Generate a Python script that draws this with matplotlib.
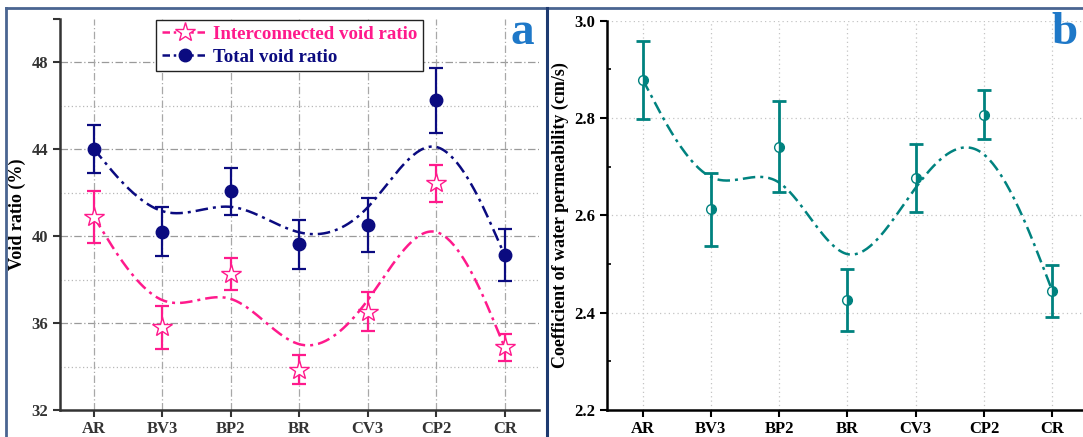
import numpy as np
import matplotlib
matplotlib.use("Agg")
import matplotlib.pyplot as plt
from matplotlib.lines import Line2D

# ---- data ----
categories = ["AR", "BV3", "BP2", "BR", "CV3", "CP2", "CR"]
total_void = [44.02, 40.21, 42.07, 39.62, 40.53, 46.25, 39.12]
total_err = [1.10, 1.13, 1.08, 1.13, 1.25, 1.50, 1.20]
inter_void = [40.90, 35.80, 38.26, 33.85, 36.52, 42.44, 34.88]
inter_err = [1.20, 1.00, 0.74, 0.66, 0.90, 0.85, 0.63]
permeability = [2.879, 2.613, 2.741, 2.426, 2.677, 2.807, 2.445]
perm_err = [0.080, 0.075, 0.094, 0.063, 0.070, 0.050, 0.053]
yticks_a = [32, 36, 40, 44, 48]
yticks_b = [2.2, 2.4, 2.6, 2.8, 3.0]

PINK = "#FF1A8C"
NAVY = "#0B0B80"
TEAL = "#00827F"
BLUE_LBL = "#1E78C8"
FRAME = "#4A6591"

plt.rcParams["font.family"] = ["Liberation Serif", "DejaVu Serif"]
plt.rcParams["font.weight"] = "bold"


def bspline(xc, yc, n=40):
    """Uniform cubic B-spline with data points as control points (ends tripled)."""
    xc = np.asarray(xc, float)
    yc = np.asarray(yc, float)
    px = np.concatenate([[xc[0]] * 2, xc, [xc[-1]] * 2])
    py = np.concatenate([[yc[0]] * 2, yc, [yc[-1]] * 2])
    t = np.linspace(0, 1, n)
    b0 = (1 - t) ** 3 / 6
    b1 = (3 * t ** 3 - 6 * t ** 2 + 4) / 6
    b2 = (-3 * t ** 3 + 3 * t ** 2 + 3 * t + 1) / 6
    b3 = t ** 3 / 6
    ox, oy = [], []
    for i in range(len(px) - 3):
        ox.append(b0 * px[i] + b1 * px[i + 1] + b2 * px[i + 2] + b3 * px[i + 3])
        oy.append(b0 * py[i] + b1 * py[i + 1] + b2 * py[i + 2] + b3 * py[i + 3])
    return np.concatenate(ox), np.concatenate(oy)


fig = plt.figure(figsize=(10.83, 4.37), dpi=100)

x = np.arange(len(categories))
DASH = (5, 2, 1.2, 2)

# ---------------- panel a ----------------
axa = fig.add_axes([59.5 / 1083, 1 - 410 / 437, (539 - 59.5) / 1083, (410 - 19) / 437])
axa.set_xlim(-0.5, 6.5)
axa.set_ylim(32, 50)
for v in [36, 40, 44, 48]:
    axa.axhline(v, color="#9a9a9a", lw=0.9, dashes=(6, 2, 1, 2), zorder=0)
for v in [34, 38, 42, 46]:
    axa.axhline(v, color="#b8b8b8", lw=0.9, dashes=(1, 2), zorder=0)
for xi in x:
    axa.axvline(xi, color="#a8a8a8", lw=0.9, dashes=(6, 2, 1, 2), zorder=0)

cx, cy = bspline(x, inter_void)
axa.plot(cx, cy, color=PINK, lw=1.8, dashes=DASH, zorder=2)
cx, cy = bspline(x, total_void)
axa.plot(cx, cy, color=NAVY, lw=1.8, dashes=DASH, zorder=2)

axa.errorbar(x, inter_void, yerr=inter_err, fmt="none", ecolor=PINK, elinewidth=1.6,
             capsize=5, capthick=1.6, zorder=3)
axa.plot(x, inter_void, ls="none", marker="*", ms=15, mfc="white", mec=PINK, mew=1.0, zorder=4)
axa.errorbar(x, total_void, yerr=total_err, fmt="none", ecolor=NAVY, elinewidth=1.6,
             capsize=5, capthick=1.6, zorder=3)
axa.plot(x, total_void, ls="none", marker="o", ms=9, mfc=NAVY, mec=NAVY, zorder=4)

axa.set_xticks(x)
axa.set_xticklabels(categories)
axa.set_yticks(yticks_a + [50])
axa.set_yticklabels([str(v) for v in yticks_a] + [""])
axa.tick_params(axis="both", direction="out", length=5, width=1.5, labelsize=12,
                colors="#333333", pad=3)
for s in ["top", "right"]:
    axa.spines[s].set_visible(False)
for s in ["left", "bottom"]:
    axa.spines[s].set_linewidth(1.8)
    axa.spines[s].set_color("#333333")
axa.set_ylabel("Void ratio (%)", fontsize=13, fontweight="bold", labelpad=4)

h1 = Line2D([], [], color=PINK, lw=1.8, dashes=(3, 1.5, 1, 1.5), marker="*", ms=15,
            mfc="white", mec=PINK, mew=1.0)
h2 = Line2D([], [], color=NAVY, lw=1.8, dashes=(3, 1.5, 1, 1.5), marker="o", ms=9,
            mfc=NAVY, mec=NAVY)
leg = axa.legend([h1, h2], ["Interconnected void ratio", "Total void ratio"],
                 loc="upper left", bbox_to_anchor=(0.2, 1.0), fontsize=13.6,
                 frameon=True, fancybox=False, framealpha=1, edgecolor="#222222",
                 handlelength=2.4, handletextpad=0.3, borderpad=0.3, labelspacing=0.3,
                 borderaxespad=0.05)
leg.get_frame().set_linewidth(1.0)
for t, c in zip(leg.get_texts(), [PINK, NAVY]):
    t.set_color(c)
    t.set_fontweight("bold")

fig.text(522 / 1083, 1 - 33 / 437, "a", fontsize=34, fontweight="bold", color=BLUE_LBL,
         ha="center", va="center")

# ---------------- panel b ----------------
axb = fig.add_axes([606.5 / 1083, 1 - 410 / 437, (1083 - 606.5) / 1083, (410 - 20.7) / 437])
axb.set_xlim(-0.53, 6.45)
axb.set_ylim(2.2, 3.0)
for v in [2.4, 2.6, 2.8, 3.0]:
    axb.axhline(v, color="#c4c4c4", lw=0.9, dashes=(1, 2.5), zorder=0)
for xi in x:
    axb.axvline(xi, color="#c4c4c4", lw=0.9, dashes=(1, 2.5), zorder=0)

cx, cy = bspline(x, permeability)
axb.plot(cx, cy, color=TEAL, lw=1.8, dashes=DASH, zorder=2)
axb.errorbar(x, permeability, yerr=perm_err, fmt="none", ecolor=TEAL, elinewidth=2.0,
             capsize=5, capthick=2.0, zorder=3)
axb.plot(x, permeability, ls="none", marker="o", ms=7, mfc=TEAL, mec=TEAL,
         fillstyle="right", markerfacecoloralt="white", mew=1.0, zorder=4)

axb.set_xticks(x)
axb.set_xticklabels(categories)
axb.set_yticks(yticks_b)
axb.set_yticklabels([f"{v:.1f}" for v in yticks_b])
axb.set_yticks([2.3, 2.5, 2.7, 2.9], minor=True)
axb.tick_params(axis="both", direction="out", length=5, width=1.5, labelsize=12,
                colors="black", pad=3)
axb.tick_params(axis="y", which="minor", direction="in", length=3, width=1.2)
for s in ["top", "right"]:
    axb.spines[s].set_visible(False)
for s in ["left", "bottom"]:
    axb.spines[s].set_linewidth(1.8)
axb.set_ylabel("Coefficient of water permeability (cm/s)", fontsize=13,
               fontweight="bold", labelpad=4)

fig.text(1065 / 1083, 1 - 33 / 437, "b", fontsize=34, fontweight="bold", color=BLUE_LBL,
         ha="center", va="center")

# ---------------- panel frames ----------------
fig.add_artist(Line2D([5.5 / 1083, 1.0], [1 - 7.5 / 437, 1 - 7.5 / 437],
                      transform=fig.transFigure, color=FRAME, lw=2.0))
fig.add_artist(Line2D([5.5 / 1083, 5.5 / 1083], [0, 1 - 7.5 / 437],
                      transform=fig.transFigure, color=FRAME, lw=2.0))
fig.add_artist(Line2D([546.5 / 1083, 546.5 / 1083], [0, 1 - 7.5 / 437],
                      transform=fig.transFigure, color="#1E3A70", lw=2.2))

fig.savefig("out.png", dpi=100)
